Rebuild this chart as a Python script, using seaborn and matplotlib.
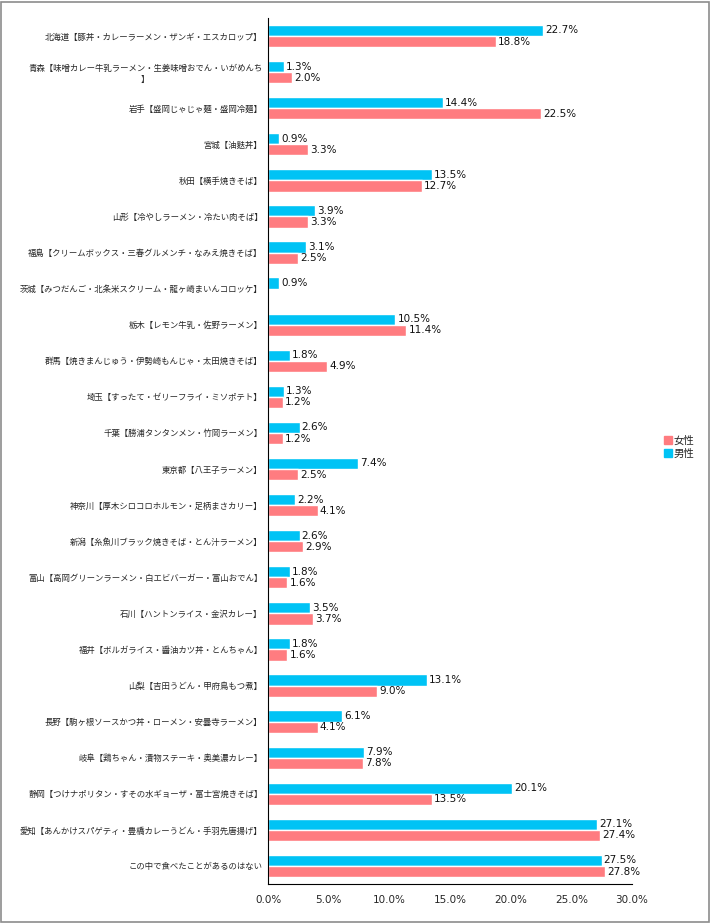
import matplotlib
matplotlib.use("Agg")
import matplotlib.pyplot as plt
import seaborn as sns
import pandas as pd
from matplotlib.patches import Rectangle, Patch
from matplotlib.ticker import FuncFormatter

categories = [
    "北海道【豚丼・カレーラーメン・ザンギ・エスカロップ】",
    "青森【味噌カレー牛乳ラーメン・生姜味噌おでん・いがめんち\n】",
    "岩手【盛岡じゃじゃ麺・盛岡冷麺】",
    "宮城【油麩丼】",
    "秋田【横手焼きそば】",
    "山形【冷やしラーメン・冷たい肉そば】",
    "福島【クリームボックス・三春グルメンチ・なみえ焼きそば】",
    "茨城【みつだんご・北条米スクリーム・龍ヶ崎まいんコロッケ】",
    "栃木【レモン牛乳・佐野ラーメン】",
    "群馬【焼きまんじゅう・伊勢崎もんじゃ・太田焼きそば】",
    "埼玉【すったて・ゼリーフライ・ミソポテト】",
    "千葉【勝浦タンタンメン・竹岡ラーメン】",
    "東京都【八王子ラーメン】",
    "神奈川【厚木シロコロホルモン・足柄まさカリー】",
    "新潟【糸魚川ブラック焼きそば・とん汁ラーメン】",
    "富山【高岡グリーンラーメン・白エビバーガー・富山おでん】",
    "石川【ハントンライス・金沢カレー】",
    "福井【ボルガライス・醤油カツ丼・とんちゃん】",
    "山梨【吉田うどん・甲府鳥もつ煮】",
    "長野【駒ヶ根ソースかつ丼・ローメン・安曇寺ラーメン】",
    "岐阜【鶏ちゃん・漬物ステーキ・奥美濃カレー】",
    "静岡【つけナポリタン・すその水ギョーザ・富士宮焼きそば】",
    "愛知【あんかけスパゲティ・豊橋カレーうどん・手羽先唐揚げ】",
    "この中で食べたことがあるのはない",
]
male = [22.7, 1.3, 14.4, 0.9, 13.5, 3.9, 3.1, 0.9, 10.5, 1.8, 1.3, 2.6, 7.4,
        2.2, 2.6, 1.8, 3.5, 1.8, 13.1, 6.1, 7.9, 20.1, 27.1, 27.5]
female = [18.8, 2.0, 22.5, 3.3, 12.7, 3.3, 2.5, 0.0, 11.4, 4.9, 1.2, 1.2, 2.5,
          4.1, 2.9, 1.6, 3.7, 1.6, 9.0, 4.1, 7.8, 13.5, 27.4, 27.8]
series = ["男性", "女性"]
colors = {"男性": "#00C3F5", "女性": "#FF7C80"}

df = pd.concat([
    pd.DataFrame({"cat": categories, "val": male, "sex": "男性"}),
    pd.DataFrame({"cat": categories, "val": female, "sex": "女性"}),
])

sns.set_style("white")
plt.rcParams["font.family"] = ["DejaVu Sans", "Noto Sans CJK JP"]

fig = plt.figure(figsize=(7.10, 9.24), dpi=100)
ax = fig.add_axes([268/710, 1-884/924, 364/710, (884-18)/924])

sns.barplot(data=df, y="cat", x="val", hue="sex", hue_order=series,
            order=categories, palette=colors, orient="h", width=0.62,
            saturation=1, ax=ax, legend=False)

for cont, s in zip(ax.containers, series):
    labels = [f"{v:.1f}%" if v > 0 else "" for v in cont.datavalues]
    ax.bar_label(cont, labels=labels, padding=1.5, fontsize=7.5, color="#111111")

ax.set_xlim(0, 30)
ax.set_xticks([0, 5, 10, 15, 20, 25, 30])
ax.xaxis.set_major_formatter(FuncFormatter(lambda v, p: f"{v:.1f}%"))
ax.tick_params(axis="x", labelsize=7.5, colors="#262626", length=0, pad=8)
ax.tick_params(axis="y", length=0, pad=4)
ax.set_yticks(range(len(categories)))
ax.set_yticklabels(categories, fontsize=6.05, color="#262626",
                   family=["Noto Sans CJK JP", "DejaVu Sans"],
                   multialignment="center")
ax.set_xlabel("")
ax.set_ylabel("")
for s in ["top", "right"]:
    ax.spines[s].set_visible(False)
for s in ["left", "bottom"]:
    ax.spines[s].set_color("#000000")
    ax.spines[s].set_linewidth(0.8)

handles = [Patch(color=colors["女性"]), Patch(color=colors["男性"])]
fig.legend(handles, ["女性", "男性"], loc="center left",
           bbox_to_anchor=(655/710, 1-447/924), frameon=False,
           handlelength=0.7, handleheight=0.7, handletextpad=0.2,
           labelspacing=0.3, prop={"family": ["Noto Sans CJK JP"], "size": 7.5})

fig.patches.append(Rectangle((0.002, 0.002), 0.996, 0.996, transform=fig.transFigure,
                             fill=False, edgecolor="#8c8c8c", linewidth=1.2))

fig.savefig("out.png", dpi=100)
